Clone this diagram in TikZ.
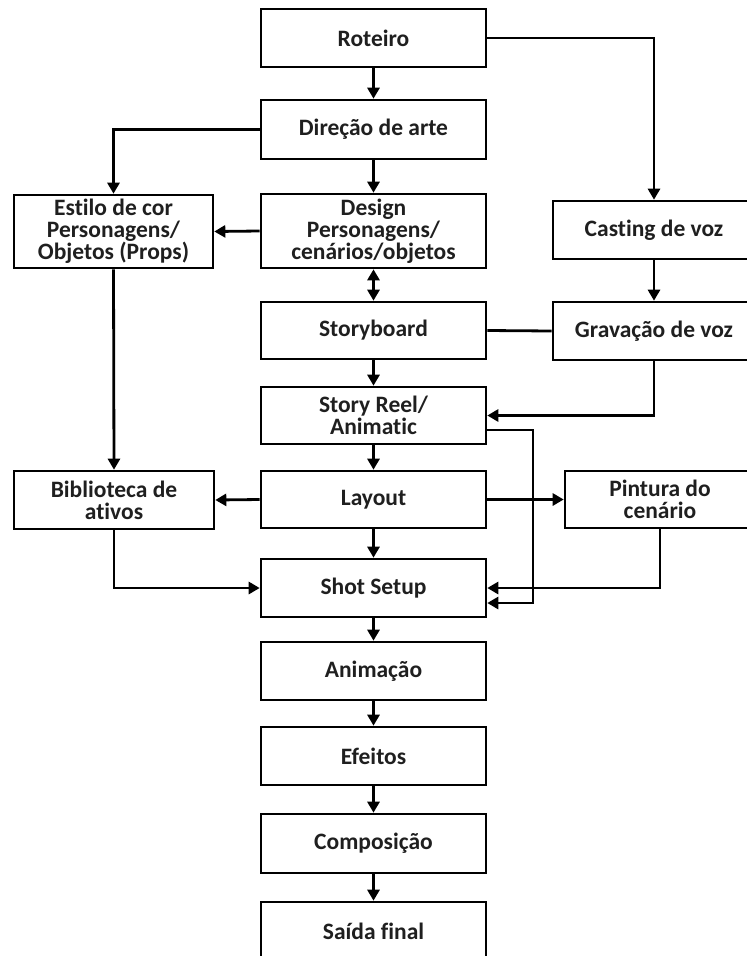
\documentclass[tikz,border=0pt]{standalone}
\usepackage{fontspec}
\setmainfont{Carlito}[Ligatures=NoCommon]
\usetikzlibrary{arrows.meta}
\tikzset{
  boxnode/.style={draw, line width=2.6pt, minimum width=225pt, minimum height=58pt, align=center, inner sep=0pt,
    font=\bfseries\fontsize{23.5}{22}\selectfont, text=black!88},
  conn/.style={line width=2.8pt, -{Triangle[length=11pt,width=12pt]}},
  plain/.style={line width=2.8pt},
}
\begin{document}
\begin{tikzpicture}[x=1pt,y=-1pt]
\clip (0,0) rectangle (747,956);
\fill[white] (0,0) rectangle (747,956);
% central column
\node[boxnode] (rot) at (373.5,38) {Roteiro};
\node[boxnode, minimum height=59pt] (dir) at (373.5,129.5) {Direção de arte};
\node[boxnode, minimum height=74pt] (des) at (373.5,231) {Design\\Personagens/\\cenários/objetos};
\node[boxnode, minimum height=57pt] (sto) at (373.5,330.5) {Storyboard};
\node[boxnode, minimum height=57pt] (sr) at (373.5,415.5) {Story Reel/\\Animatic};
\node[boxnode, minimum height=57pt] (lay) at (373.5,499.5) {Layout};
\node[boxnode] (ss) at (373.5,588) {Shot Setup};
\node[boxnode] (ani) at (373.5,671) {Animação};
\node[boxnode] (efe) at (373.5,756) {Efeitos};
\node[boxnode, minimum height=59pt] (com) at (373.5,843.5) {Composição};
\node[boxnode] (sai) at (373.5,931) {Saída final};
% left column
\node[boxnode, minimum width=199pt, minimum height=73pt] (est) at (113.5,231.5) {Estilo de cor\\Personagens/\\Objetos (Props)};
\node[boxnode, minimum width=200pt] (bib) at (114,500) {Biblioteca de\\ativos};
% right column
\node[boxnode, minimum width=202pt] (cas) at (654,230) {Casting de voz};
\node[boxnode, minimum width=202pt] (gra) at (654,331) {Gravação de voz};
\node[boxnode, minimum width=190pt, minimum height=57pt] (pin) at (660,499.5) {Pintura do\\cenário};
% connectors
\draw[conn] (rot) -- (dir);
\draw[conn] (dir) -- (des);
\draw[line width=2.8pt, {Triangle[length=11pt,width=12pt]}-{Triangle[length=11pt,width=12pt]}] (des) -- (sto);
\draw[conn] (sto) -- (sr);
\draw[conn] (sr) -- (lay);
\draw[conn] (lay) -- (ss);
\draw[conn] (ss) -- (ani);
\draw[conn] (ani) -- (efe);
\draw[conn] (efe) -- (com);
\draw[conn] (com) -- (sai);
\draw[conn] (rot.east) -| (cas.north);
\draw[conn] (dir.west) -| (est.north);
\draw[conn] (des.west) -- (est.east);
\draw[conn] (cas) -- (gra);
\draw[plain] (sto.east) -- (gra.west);
\draw[conn] (gra.south) |- (sr.east);
\coordinate (srout) at ([yshift=-14.5pt]sr.east);
\coordinate (ssin) at ([yshift=-15pt]ss.east);
\draw[conn] (srout) -- (533,430) |- (ssin);
\draw[conn] (lay.west) -- (bib.east);
\draw[conn] (lay.east) -- (pin.west);
\draw[conn] (est.south) -- (bib.north);
\draw[conn] (bib.south) |- (ss.west);
\draw[conn] (pin.south) |- (ss.east);
\end{tikzpicture}
\end{document}
